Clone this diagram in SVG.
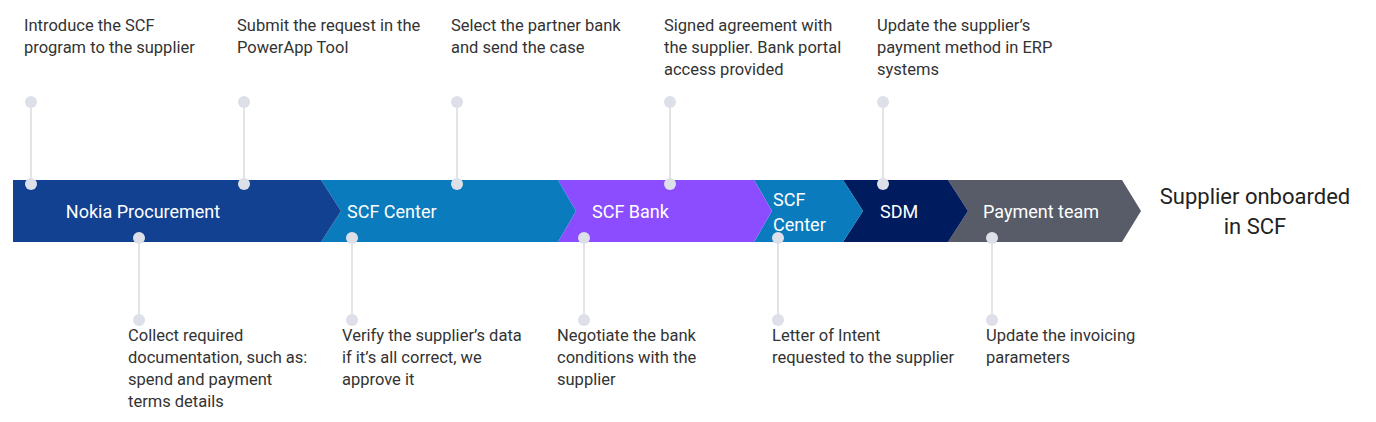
<svg xmlns="http://www.w3.org/2000/svg" width="1376" height="422" viewBox="0 0 1376 422">
<style>
.t{font-family:Roboto,"Liberation Sans",sans-serif;font-size:16.5px;fill:#333}
.b{font-family:Roboto,"Liberation Sans",sans-serif;font-size:18px;fill:#fff}
.d{fill:#dde0e8}
.l{stroke:#e2e4ea;stroke-width:2}
</style>
<rect width="1376" height="422" fill="#fff"/>
<g id="stages">
<g id="s6"><polygon points="948,180 1122,180 1141,211 1122,242 948,242 968,211" fill="#575c68"/><text class="b" x="983" y="218">Payment team</text></g>
<g id="s5"><polygon points="843,180 948,180 968,211 948,242 843,242 863,211" fill="#001b5e"/><text class="b" x="880" y="218">SDM</text></g>
<g id="s4"><polygon points="754,180 843,180 863,211 843,242 754,242 772,211" fill="#0a7bbd"/><text class="b" x="773" y="206">SCF</text><text class="b" x="773" y="231">Center</text></g>
<g id="s3"><polygon points="558,180 754,180 772,211 754,242 558,242 576,211" fill="#8b4dff"/><text class="b" x="592" y="218">SCF Bank</text></g>
<g id="s2"><polygon points="321,180 558,180 576,211 558,242 321,242 341,211" fill="#0a7bbd"/><text class="b" x="347" y="218">SCF Center</text></g>
<g id="s1"><polygon points="13,180 321,180 341,211 321,242 13,242" fill="#124191"/><text class="b" x="143" y="218" text-anchor="middle">Nokia Procurement</text></g>
</g>
<g id="end"><text x="1255" y="204" text-anchor="middle" style="font-family:Roboto,'Liberation Sans',sans-serif;font-size:22px;fill:#222">Supplier onboarded</text><text x="1255" y="234" text-anchor="middle" style="font-family:Roboto,'Liberation Sans',sans-serif;font-size:22px;fill:#222">in SCF</text></g>
<g id="connectors">
<line class="l" x1="31" y1="102" x2="31" y2="184"/><line class="l" x1="244" y1="102" x2="244" y2="184"/><line class="l" x1="457" y1="102" x2="457" y2="184"/><line class="l" x1="670" y1="102" x2="670" y2="184"/><line class="l" x1="883" y1="102" x2="883" y2="184"/>
<line class="l" x1="139" y1="238" x2="139" y2="320"/><line class="l" x1="352" y1="238" x2="352" y2="320"/><line class="l" x1="584" y1="238" x2="584" y2="320"/><line class="l" x1="778" y1="238" x2="778" y2="320"/><line class="l" x1="992" y1="238" x2="992" y2="320"/>
<g class="d"><circle cx="31" cy="102" r="6"/><circle cx="31" cy="184" r="6"/><circle cx="244" cy="102" r="6"/><circle cx="244" cy="184" r="6"/><circle cx="457" cy="102" r="6"/><circle cx="457" cy="184" r="6"/><circle cx="670" cy="102" r="6"/><circle cx="670" cy="184" r="6"/><circle cx="883" cy="102" r="6"/><circle cx="883" cy="184" r="6"/>
<circle cx="139" cy="238" r="6"/><circle cx="139" cy="320" r="6"/><circle cx="352" cy="238" r="6"/><circle cx="352" cy="320" r="6"/><circle cx="584" cy="238" r="6"/><circle cx="584" cy="320" r="6"/><circle cx="778" cy="238" r="6"/><circle cx="778" cy="320" r="6"/><circle cx="992" cy="238" r="6"/><circle cx="992" cy="320" r="6"/></g>
</g>
<g id="notes">
<text class="t" x="24" y="31">Introduce the SCF</text><text class="t" x="24" y="53">program to the supplier</text>
<text class="t" x="237" y="31">Submit the request in the</text><text class="t" x="237" y="53">PowerApp Tool</text>
<text class="t" x="451" y="31">Select the partner bank</text><text class="t" x="451" y="53">and send the case</text>
<text class="t" x="664" y="31">Signed agreement with</text><text class="t" x="664" y="53">the supplier. Bank portal</text><text class="t" x="664" y="75">access provided</text>
<text class="t" x="877" y="31">Update the supplier’s</text><text class="t" x="877" y="53">payment method in ERP</text><text class="t" x="877" y="75">systems</text>
<text class="t" x="128" y="341">Collect required</text><text class="t" x="128" y="363">documentation, such as:</text><text class="t" x="128" y="385">spend and payment</text><text class="t" x="128" y="407">terms details</text>
<text class="t" x="342" y="341">Verify the supplier’s data</text><text class="t" x="342" y="363">if it’s all correct, we</text><text class="t" x="342" y="385">approve it</text>
<text class="t" x="557" y="341">Negotiate the bank</text><text class="t" x="557" y="363">conditions with the</text><text class="t" x="557" y="385">supplier</text>
<text class="t" x="772" y="341">Letter of Intent</text><text class="t" x="772" y="363">requested to the supplier</text>
<text class="t" x="986" y="341">Update the invoicing</text><text class="t" x="986" y="363">parameters</text>
</g>
</svg>
